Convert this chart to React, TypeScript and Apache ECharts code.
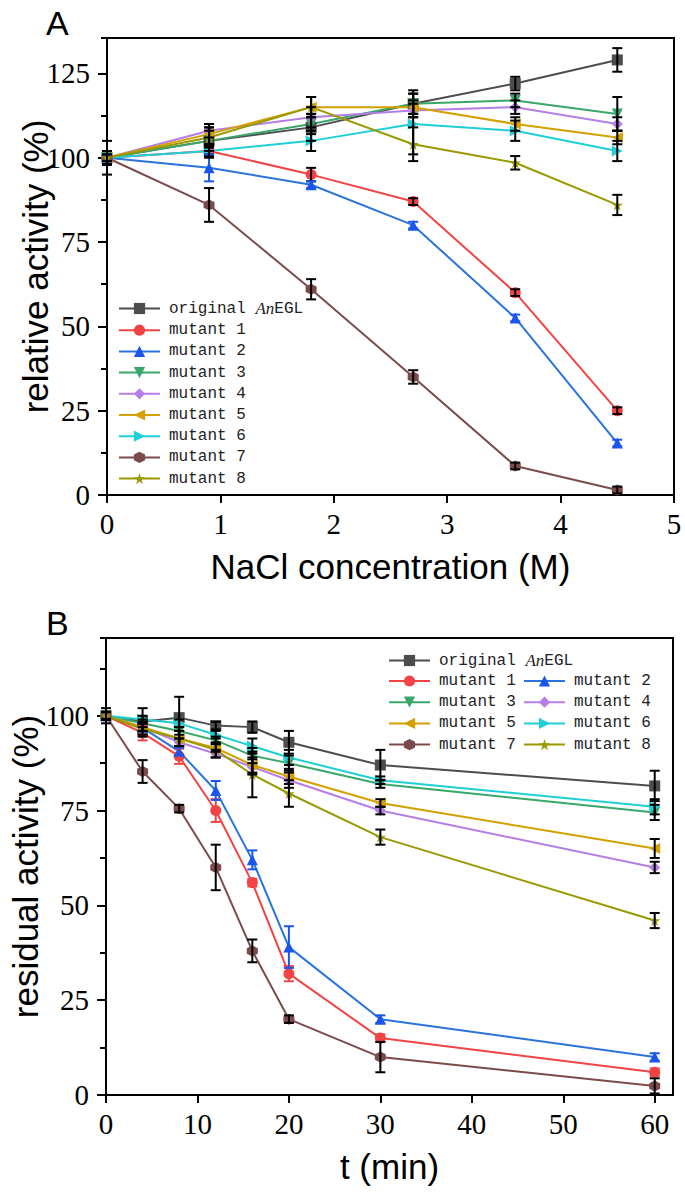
import React, { useEffect, useRef } from "react";
import * as echarts from "echarts";

// ---------- names & styles ----------
const seriesNames = [
  "original AnEGL",
  "mutant 1",
  "mutant 2",
  "mutant 3",
  "mutant 4",
  "mutant 5",
  "mutant 6",
  "mutant 7",
  "mutant 8",
];
const lineColors = ["#4d4d4d", "#f24444", "#2a74dc", "#38a86a", "#b47ee6", "#d4a000", "#1fcfd6", "#7a4b4a", "#999900"];
const markerColors = ["#4d4d4d", "#f24444", "#1a55ee", "#38a86a", "#b47ee6", "#d4a000", "#1fcfd6", "#7a4b4a", "#999900"];
const STAR = "path://M50,0 L61,35 L98,35 L68,57 L79,91 L50,70 L21,91 L32,57 L2,35 L39,35 Z";
const HEX = "path://M50,0 L93,25 L93,75 L50,100 L7,75 L7,25 Z";
const symbols = ["rect", "circle", "triangle", "triangle", "diamond", "triangle", "triangle", HEX, STAR];
const rotations = [0, 0, 0, 180, 0, 90, -90, 0, 0];

// ---------- panel A: NaCl ----------
const naclX = [0, 0.9, 1.8, 2.7, 3.6, 4.5];
const naclTicks = [0, 1, 2, 3, 4, 5];
const naclOriginal = [100, 105, 109, 116, 122, 129];
const naclM1 = [100, 102, 95, 87, 60, 25];
const naclM2 = [100, 97, 92, 80, 52.5, 15.4];
const naclM3 = [100, 105, 110, 116, 117, 113];
const naclM4 = [100, 108, 112, 114, 115, 110];
const naclM5 = [100, 107, 115, 115, 110, 106];
const naclM6 = [100, 102, 105, 110, 108, 102];
const naclM7 = [100, 86, 61, 35, 8.6, 1.5];
const naclM8 = [100, 106, 115, 104, 98.5, 86];

const naclErrOriginal = [5, 4, 4, 4, 2, 3.5];
const naclErrM1 = [1, 1.5, 2, 1, 1, 1];
const naclErrM2 = [1, 4, 1, 1, 1, 1];
const naclErrM3 = [2, 3, 3, 3, 2, 5];
const naclErrM4 = [2, 2, 3, 2, 2, 2];
const naclErrM5 = [2, 3, 3, 2, 2, 2];
const naclErrM6 = [2, 2, 3, 9, 3, 3];
const naclErrM7 = [1, 5, 3, 2, 1, 1];
const naclErrM8 = [2, 3, 3, 5, 2, 3];

// ---------- panel B: time ----------
const timeX = [0, 4, 8, 12, 16, 20, 30, 60];
const timeOriginal = [100, 98.5, 99.5, 97.4, 97, 93, 87, 81.5];
const timeM1 = [100, 95.5, 89.3, 75, 56, 32, 15, 6];
const timeM2 = [100, 96.8, 90.6, 80.3, 62, 39, 20, 10];
const timeM3 = [100, 98, 96, 93.5, 89.5, 87.5, 82, 74.5];
const timeM4 = [100, 97, 93, 90, 86.5, 83, 75, 60];
const timeM5 = [100, 97, 94, 91.5, 87, 84, 77, 65];
const timeM6 = [100, 99, 98, 95, 92, 89, 83, 76];
const timeM7 = [100, 85.3, 75.5, 60, 38, 20, 10, 2.4];
const timeM8 = [100, 96.5, 94, 91, 84.5, 79.5, 68, 46];

const timeErrOriginal = [2, 3.5, 5.5, 1, 1.5, 3, 4, 4];
const timeErrM1 = [1, 2, 2, 3, 1, 2, 1, 1];
const timeErrM2 = [1, 1, 1, 2.5, 2.5, 5.5, 1, 1];
const timeErrM3 = [1, 1, 1, 1, 2, 2, 1, 2];
const timeErrM4 = [1, 1, 1, 1, 2, 2, 1, 1.5];
const timeErrM5 = [1, 1, 2, 1, 2, 2, 1, 2.5];
const timeErrM6 = [1, 1, 1, 1, 2, 2, 1, 2];
const timeErrM7 = [1, 3, 1, 6, 3, 1, 4, 2];
const timeErrM8 = [1, 2, 2, 2, 6, 3.5, 2, 2];

const yTickLabelsA = ["0", "25", "50", "75", "100", "125"];
const yTickLabelsB = ["0", "25", "50", "75", "100"];

const naclValues = [naclOriginal, naclM1, naclM2, naclM3, naclM4, naclM5, naclM6, naclM7, naclM8];
const naclErrors = [naclErrOriginal, naclErrM1, naclErrM2, naclErrM3, naclErrM4, naclErrM5, naclErrM6, naclErrM7, naclErrM8];
const timeValues = [timeOriginal, timeM1, timeM2, timeM3, timeM4, timeM5, timeM6, timeM7, timeM8];
const timeErrors = [timeErrOriginal, timeErrM1, timeErrM2, timeErrM3, timeErrM4, timeErrM5, timeErrM6, timeErrM7, timeErrM8];
const naclErrColors = ["#000", "#000", "#1a55ee", "#000", "#000", "#000", "#000", "#000", "#000"];
const timeErrColors = ["#000", "#f24444", "#1a55ee", "#000", "#000", "#000", "#000", "#000", "#000"];

const SERIF = "'Liberation Serif', 'Times New Roman', serif";
const SANS = "'Liberation Sans', Arial, sans-serif";
const MONO = "'Liberation Mono', monospace";

function lineSeries(idx: number, xs: number[], ys: number[], panel: number) {
  return {
    type: "line",
    name: seriesNames[idx],
    xAxisIndex: panel,
    yAxisIndex: panel * 2,
    data: xs.map((x, i) => [x, ys[i]]),
    symbol: symbols[idx],
    symbolSize: 11,
    symbolRotate: rotations[idx],
    showAllSymbol: true,
    lineStyle: { color: lineColors[idx], width: 2 },
    itemStyle: { color: markerColors[idx] },
    z: 3,
  };
}

function errSeries(idx: number, xs: number[], ys: number[], es: number[], panel: number, color: string) {
  return {
    type: "custom",
    name: "err-" + panel + "-" + idx,
    xAxisIndex: panel,
    yAxisIndex: panel * 2,
    silent: true,
    z: 4,
    encode: { x: 0, y: [1, 2] },
    data: xs.map((x, i) => [x, ys[i] - es[i], ys[i] + es[i]]),
    renderItem: (params: any, api: any) => {
      const x = api.value(0);
      const p1 = api.coord([x, api.value(1)]);
      const p2 = api.coord([x, api.value(2)]);
      const w = 5;
      const style = { stroke: color, lineWidth: 2 };
      return {
        type: "group",
        children: [
          { type: "line", shape: { x1: p1[0], y1: p1[1], x2: p2[0], y2: p2[1] }, style },
          { type: "line", shape: { x1: p1[0] - w, y1: p1[1], x2: p1[0] + w, y2: p1[1] }, style },
          { type: "line", shape: { x1: p2[0] - w, y1: p2[1], x2: p2[0] + w, y2: p2[1] }, style },
        ],
      };
    },
  };
}

const legendFormatter = (name: string) =>
  name === "original AnEGL" ? "original {i|An}EGL" : name;

const legendText = {
  fontFamily: MONO,
  fontSize: 16,
  color: "#222",
  padding: [0, 0, 0, 4],
  rich: {
    i: { fontFamily: SERIF, fontStyle: "italic", fontSize: 17, color: "#222" },
  },
};

function legendBox(data: string[], left: number, top: number) {
  return {
    data,
    left,
    top,
    orient: "vertical",
    itemWidth: 41,
    itemHeight: 14,
    itemGap: 5.2,
    padding: 0,
    selectedMode: false,
    formatter: legendFormatter,
    textStyle: legendText,
  };
}

function mainY(gridIndex: number, max: number, name: string, labels: string[], nameGap: number) {
  return {
    type: "value",
    gridIndex,
    position: "left",
    min: 0,
    max,
    interval: 25,
    name,
    nameLocation: "middle",
    nameGap,
    nameMoveOverlap: false,
    nameTextStyle: { fontFamily: SANS, fontSize: 35, color: "#000" },
    axisLine: { show: true, lineStyle: { color: "#000", width: 2 } },
    axisTick: { show: true, length: 9, lineStyle: { color: "#000", width: 2 } },
    splitLine: { show: false },
    axisLabel: {
      showMaxLabel: false,
      margin: 17,
      fontFamily: SERIF,
      fontSize: 29,
      color: "#000",
      formatter: (v: number) => (labels.includes(String(v)) ? String(v) : ""),
    },
  };
}

function minorY(gridIndex: number, max: number) {
  return {
    type: "value",
    gridIndex,
    position: "left",
    min: 0,
    max,
    interval: 12.5,
    axisLine: { show: false },
    axisTick: { show: true, length: 6, lineStyle: { color: "#000", width: 2 } },
    axisLabel: { show: false },
    splitLine: { show: false },
  };
}

function xAxis(gridIndex: number, max: number, interval: number, name: string, showMax: boolean) {
  return {
    type: "value",
    gridIndex,
    min: 0,
    max,
    interval,
    name,
    nameLocation: "middle",
    nameGap: 54,
    nameMoveOverlap: false,
    nameTextStyle: { fontFamily: SANS, fontSize: 35, color: "#000" },
    axisLine: { show: true, lineStyle: { color: "#000", width: 2 } },
    axisTick: { show: true, length: 8, lineStyle: { color: "#000", width: 2 } },
    splitLine: { show: false },
    axisLabel: {
      showMaxLabel: showMax,
      margin: 14,
      fontFamily: SERIF,
      fontSize: 29,
      color: "#000",
    },
  };
}

export default function App() {
  const ref = useRef<HTMLDivElement>(null);

  useEffect(() => {
    if (!ref.current) return;
    const chart = echarts.init(ref.current, null, { renderer: "svg" });

    const series: any[] = [];
    seriesNames.forEach((_, i) => {
      series.push(lineSeries(i, naclX, naclValues[i], 0));
      series.push(errSeries(i, naclX, naclValues[i], naclErrors[i], 0, naclErrColors[i]));
    });
    seriesNames.forEach((_, i) => {
      series.push(lineSeries(i, timeX, timeValues[i], 1));
      series.push(errSeries(i, timeX, timeValues[i], timeErrors[i], 1, timeErrColors[i]));
    });

    chart.setOption({
      animation: false,
      backgroundColor: "#fff",
      grid: [
        {
          left: 107, top: 38, width: 567, height: 457,
          show: true, borderColor: "#000", borderWidth: 2,
          containLabel: false, outerBoundsMode: "none",
        },
        {
          left: 106, top: 638, width: 567, height: 457,
          show: true, borderColor: "#000", borderWidth: 2,
          containLabel: false, outerBoundsMode: "none",
        },
      ],
      xAxis: [
        xAxis(0, naclTicks[naclTicks.length - 1], 1, "NaCl concentration (M)", true),
        xAxis(1, 62, 10, "t (min)", false),
      ],
      yAxis: [
        mainY(0, 135.5, "relative activity (%)", yTickLabelsA, 54),
        minorY(0, 135.5),
        mainY(1, 120.5, "residual activity (%)", yTickLabelsB, 63),
        minorY(1, 120.5),
      ],
      legend: [
        legendBox(seriesNames, 118, 300),
        legendBox([seriesNames[0]], 388, 652),
        legendBox([seriesNames[1], seriesNames[3], seriesNames[5], seriesNames[7]], 388, 673),
        legendBox([seriesNames[2], seriesNames[4], seriesNames[6], seriesNames[8]], 523, 673),
      ],
      graphic: [
        { type: "text", left: 46, top: 6, style: { text: "A", font: "34px 'Liberation Sans'", fill: "#000" } },
        { type: "text", left: 46, top: 606, style: { text: "B", font: "34px 'Liberation Sans'", fill: "#000" } },
      ],
      series,
    });

    return () => chart.dispose();
  }, []);

  return (
    <div
      ref={ref}
      style={{ position: "fixed", left: 0, top: 0, width: 685, height: 1192, background: "#fff" }}
    />
  );
}
